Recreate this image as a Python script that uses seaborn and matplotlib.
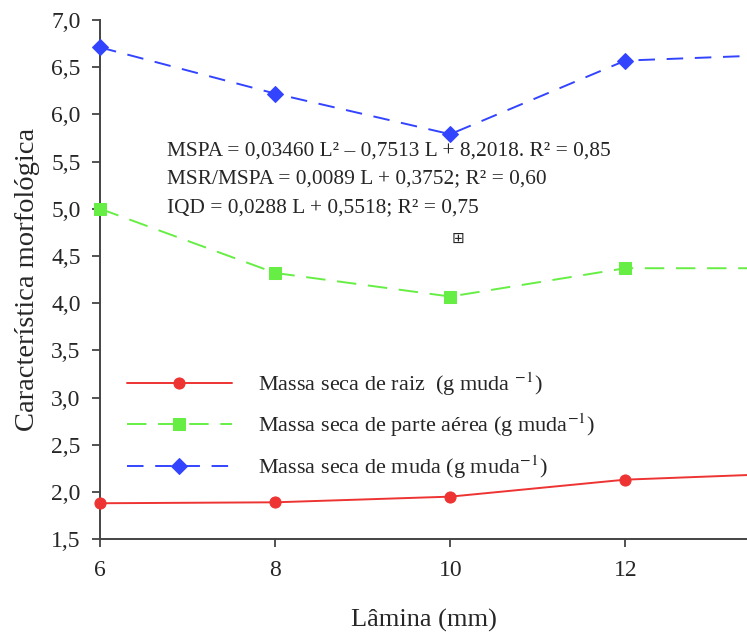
import pandas as pd
import matplotlib
matplotlib.use("Agg")
import matplotlib.pyplot as plt
import seaborn as sns

# Dados (lâmina em mm); o ponto 14 sai do recorte à direita
lamina = [6, 8, 10, 12, 14]
raiz = [1.88, 1.89, 1.95, 2.13, 2.20]
parte_aerea = [5.00, 4.32, 4.07, 4.37, 4.37]
muda = [6.71, 6.22, 5.79, 6.57, 6.64]

series_labels = [
    "Massa seca de raiz  (g muda $^{-1}$)",
    "Massa seca de parte aérea (g muda$^{-1}$)",
    "Massa seca de muda (g muda$^{-1}$)",
]
y_ticks = [1.5, 2.0, 2.5, 3.0, 3.5, 4.0, 4.5, 5.0, 5.5, 6.0, 6.5, 7.0]
x_ticks = [6, 8, 10, 12]
equacoes = [
    "MSPA = 0,03460 L² – 0,7513 L + 8,2018. R² = 0,85",
    "MSR/MSPA = 0,0089 L + 0,3752; R² = 0,60",
    "IQD = 0,0288 L + 0,5518; R² = 0,75",
]

sns.set_style("ticks")
plt.rcParams["font.family"] = ["Liberation Serif", "DejaVu Sans"]
plt.rcParams["mathtext.fontset"] = "stix"

fig = plt.figure(figsize=(7.47, 6.35), dpi=100)
ax = fig.add_axes([0.134, 0.151, 0.866, 0.8175])

estilos = [
    (raiz, "#ee3333", "o", None),
    (parte_aerea, "#66ee44", "s", (10, 6)),
    (muda, "#3344ff", "D", (8.5, 6)),
]
for (vals, cor, mk, dash), lab in zip(estilos, series_labels):
    sns.lineplot(x=lamina, y=vals, ax=ax, color=cor, marker=mk, markersize=8,
                 markeredgecolor=cor, linewidth=1.4, label=lab, clip_on=False)
    if dash is not None:
        ax.lines[-1].set_dashes(dash)

ax.set_xlim(6, 13.39)
ax.set_ylim(1.5, 7.0)
ax.set_xticks(x_ticks)
ax.set_xticklabels([str(v) for v in x_ticks])
ax.set_yticks(y_ticks)
ax.set_yticklabels([f"{v:.1f}".replace(".", ",") for v in y_ticks])
ax.tick_params(axis="both", labelsize=17, length=6, width=1.3, color="#444444")
ax.tick_params(axis="x", pad=9)
ax.tick_params(axis="y", pad=8)
sns.despine(ax=ax)
for s in ["left", "bottom"]:
    ax.spines[s].set_color("#444444")
    ax.spines[s].set_linewidth(1.4)
    ax.spines[s].set_zorder(1)

ax.set_xlabel("Lâmina (mm)", fontsize=19, labelpad=20)
ax.set_ylabel("Característica morfológica", fontsize=20.5, labelpad=8)

for i, eq in enumerate(equacoes):
    ax.text(0.104, 0.748 - i * 0.0545, eq, transform=ax.transAxes,
            fontsize=15.4, va="center", ha="left")
ax.text(0.553, 0.58, "⊞", transform=ax.transAxes, fontsize=11,
        family="DejaVu Sans", ha="center", va="center")

leg = ax.legend(loc="upper left", bbox_to_anchor=(0.028, 0.342), frameon=False,
                fontsize=16, handlelength=4.7, handletextpad=1.2,
                labelspacing=0.62, borderaxespad=0)

fig.savefig("out.png", dpi=100)
